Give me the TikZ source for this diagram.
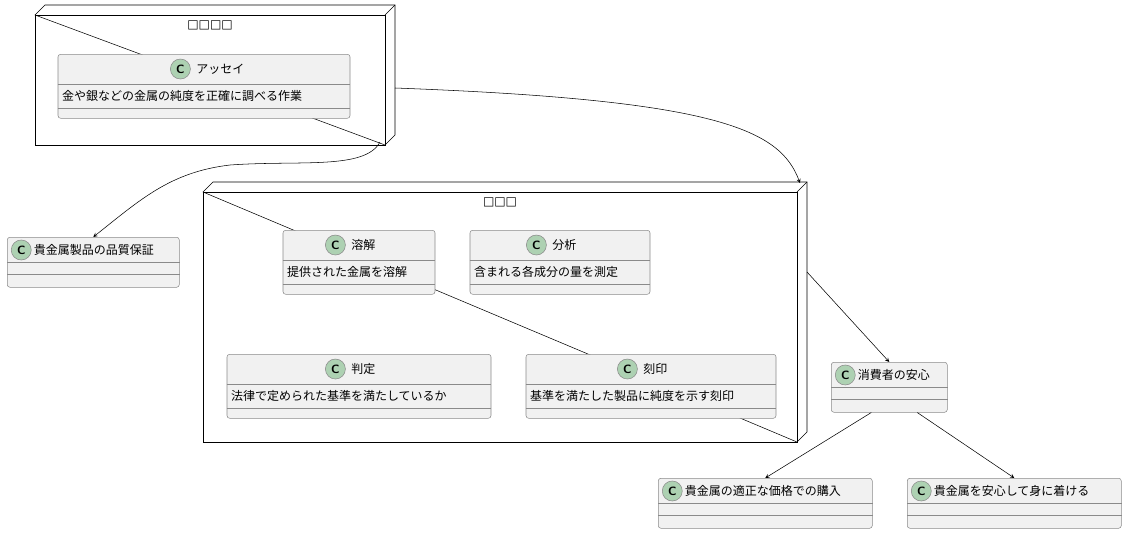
\documentclass[tikz,border=0pt]{standalone}
\usepackage{fontspec}
\newfontfamily\jp{Noto Sans CJK JP}
\newfontfamily\dv{DejaVu Sans}
\usetikzlibrary{calc}

\definecolor{boxfill}{HTML}{F1F1F1}
\definecolor{boxline}{HTML}{8A8A8A}
\definecolor{spot}{HTML}{ADD1B2}

\tikzset{
    classbox/.style={rectangle, rounded corners=2pt, draw=boxline, fill=boxfill, inner sep=0pt},
    spotc/.style={circle, draw=boxline, fill=spot, minimum size=15pt, inner sep=0pt, font=\sffamily\bfseries\small},
    txt/.style={font=\jp\fontsize{9}{10}\selectfont, inner sep=0pt},
    link/.style={->, >=stealth, black}
}

% class with body line: name, center x, top y, width, title, body
\newcommand{\umlclass}[6]{
    \node[classbox, minimum width=#4*0.75pt, minimum height=48pt, anchor=north] (#1) at (#2,#3) {};
    \draw[boxline] ($(#1.north west)+(0,30)$) -- ($(#1.north east)+(0,30)$);
    \draw[boxline] ($(#1.north west)+(0,54)$) -- ($(#1.north east)+(0,54)$);
    \node[txt, anchor=west] (#1-t) at ($(#1.north)+(-8,15)$) {#5};
    \node[spotc, left=4pt] at (#1-t.west) {C};
    \node[txt, anchor=west] at ($(#1.north west)+(4,42)$) {#6};
}
% class without body: name, left x, top y, width, title
\newcommand{\umlleaf}[5]{
    \node[classbox, minimum width=#4*0.75pt, minimum height=37.5pt, anchor=north west] (#1) at (#2,#3) {};
    \draw[boxline] ($(#1.north west)+(0,25)$) -- ($(#1.north east)+(0,25)$);
    \draw[boxline] ($(#1.north west)+(0,37)$) -- ($(#1.north east)+(0,37)$);
    \node[spotc, anchor=west] (#1-c) at ($(#1.north west)+(4,13)$) {C};
    \node[txt, anchor=west] at ($(#1-c.east)+(2,0)$) {#5};
}
% 3D node frame: name, x1, y1, x2, y2, title
\newcommand{\umlnode}[6]{
    \draw[black, fill=white] (#2,#3) -- (#2+10,#3-10) -- (#4+10,#3-10) -- (#4+10,#5-10) -- (#4,#5) -- cycle;
    \draw[black] (#2,#3) rectangle (#4,#5);
    \draw[black] (#4,#3) -- (#4+10,#3-10);
    \node[font=\dv\fontsize{9}{10}\selectfont, inner sep=0pt] (#1) at ({(#2+#4)/2},#3+10) {#6};
}

\begin{document}
\begin{tikzpicture}[x=0.75pt, y=-0.75pt]
\useasboundingbox (0,0) rectangle (1127,533);

% Nodes
\umlnode{assay}{35}{15}{385}{145}{□□□□}
\umlnode{lab}{203}{192}{797}{442}{□□□}
\coordinate (lab-top) at (800,183);
\coordinate (lab-right) at (807,272);
\coordinate (assay-right) at (395,88);
\coordinate (assay-bottom) at (380,142);

% Classes inside
\umlclass{assayc}{204}{54}{292}{アッセイ}{金や銀などの金属の純度を正確に調べる作業}
\umlclass{melt}{359}{230}{152}{溶解}{提供された金属を溶解}
\umlclass{analyse}{560}{230}{180}{分析}{含まれる各成分の量を測定}
\umlclass{judge}{359}{354}{264}{判定}{法律で定められた基準を満たしているか}
\umlclass{stamp}{651}{354}{250}{刻印}{基準を満たした製品に純度を示す刻印}

% Outer classes
\umlleaf{quality}{7}{237}{172}{貴金属製品の品質保証}
\umlleaf{trust}{831}{362}{116}{消費者の安心}
\umlleaf{price}{658}{478}{214}{貴金属の適正な価格での購入}
\umlleaf{wear}{907}{478}{214}{貴金属を安心して身に着ける}

% Links
\draw[link] (assay-right) .. controls (720,100) and (780,130) .. (lab-top);
\draw[link] (assay-bottom) .. controls (365,170) and (300,160) .. (230,165) .. controls (170,172) and (140,200) .. (quality.north);
\draw[link] (lab-right) -- (trust.north);
\draw[link] (trust.south) ++(-18,0) -- (price.north);
\draw[link] (trust.south) ++(28,0) -- (wear.north);
\end{tikzpicture}
\end{document}
